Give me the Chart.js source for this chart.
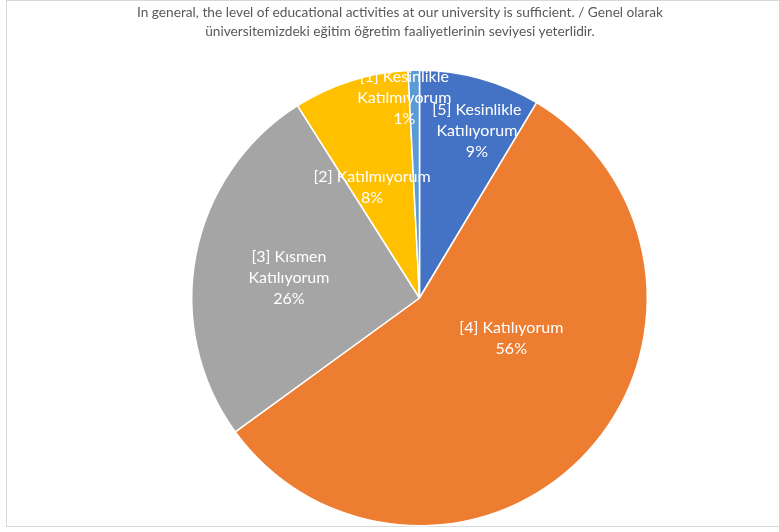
<!DOCTYPE html>
<html>
<head>
<meta charset="utf-8">
<script src="https://cdn.jsdelivr.net/npm/chart.js@4"></script>
<style>
  html, body { margin: 0; padding: 0; background: #fff; overflow: hidden; }
  #wrap { position: relative; width: 779px; height: 532px; }
  #frame { position: absolute; left: 6px; top: 0px; width: 900px; height: 527px; border: 1px solid #d9d9d9; box-sizing: border-box; }
  #title { position: absolute; left: 0; width: 800px; top: 2px; text-align: center; font-family: Lato, "Open Sans", sans-serif; font-size: 13.7px; line-height: 19px; color: #595959; }
  canvas { position: absolute; left: 0; top: 0; }
</style>
</head>
<body>
<div id="wrap">
  <div id="frame"></div>
  <canvas id="c" width="779" height="532"></canvas>
  <div id="title">In general, the level of educational activities at our university is sufficient. / Genel olarak<br>üniversitemizdeki eğitim öğretim faaliyetlerinin seviyesi yeterlidir.</div>
</div>
<script>
const categories = ["[5] Kesinlikle Katılıyorum", "[4] Katılıyorum", "[3] Kısmen Katılıyorum", "[2] Katılmıyorum", "[1] Kesinlikle Katılmıyorum"];
const labelLines = [["[5] Kesinlikle", "Katılıyorum"], ["[4] Katılıyorum"], ["[3] Kısmen", "Katılıyorum"], ["[2] Katılmıyorum"], ["[1] Kesinlikle", "Katılmıyorum"]];
const shares = [8.6, 56.4, 26.0, 8.2, 0.8];
const colors = ["#4472C4", "#ED7D31", "#A5A5A5", "#FFC000", "#5B9BD5"];

// label placement: fraction of radius and angular shift (deg) relative to slice middle
const labelPlace = [
  { frac: 0.775, shift: 3.5 },
  { frac: 0.44, shift: -18.8 },
  { frac: 0.58, shift: -2.0 },
  { frac: 0.53, shift: -5.5 },
  { frac: 0.88, shift: -2.9 }
];

const labelPlugin = {
  id: 'sliceLabels',
  afterDatasetsDraw(chart) {
    const ctx = chart.ctx;
    const meta = chart.getDatasetMeta(0);
    const total = shares.reduce((a, b) => a + b, 0);
    ctx.save();
    ctx.fillStyle = '#ffffff';
    ctx.font = '16px Lato, "Open Sans", sans-serif';
    ctx.textAlign = 'center';
    ctx.textBaseline = 'middle';
    meta.data.forEach((arc, i) => {
      const p = arc.getProps(['x', 'y', 'startAngle', 'endAngle', 'outerRadius'], true);
      const mid = (p.startAngle + p.endAngle) / 2 + labelPlace[i].shift * Math.PI / 180;
      const r = p.outerRadius * labelPlace[i].frac;
      const cx = p.x + Math.cos(mid) * r;
      const cy = p.y + Math.sin(mid) * r;
      const lines = labelLines[i].concat([Math.round(shares[i] / total * 100) + '%']);
      const lh = 21;
      const y0 = cy - (lines.length - 1) * lh / 2;
      lines.forEach((t, k) => ctx.fillText(t, cx, y0 + k * lh));
    });
    ctx.restore();
  }
};

new Chart(document.getElementById('c'), {
  type: 'pie',
  data: {
    labels: categories,
    datasets: [{
      data: shares,
      backgroundColor: colors,
      borderColor: '#ffffff',
      borderWidth: 1.5
    }]
  },
  options: {
    responsive: false,
    animation: false,
    rotation: 0,
    layout: { padding: { left: 191, right: 131, top: 69, bottom: 5 } },
    plugins: {
      legend: { display: false },
      title: { display: false },
      tooltip: { enabled: false }
    }
  },
  plugins: [labelPlugin]
});
</script>
</body>
</html>
